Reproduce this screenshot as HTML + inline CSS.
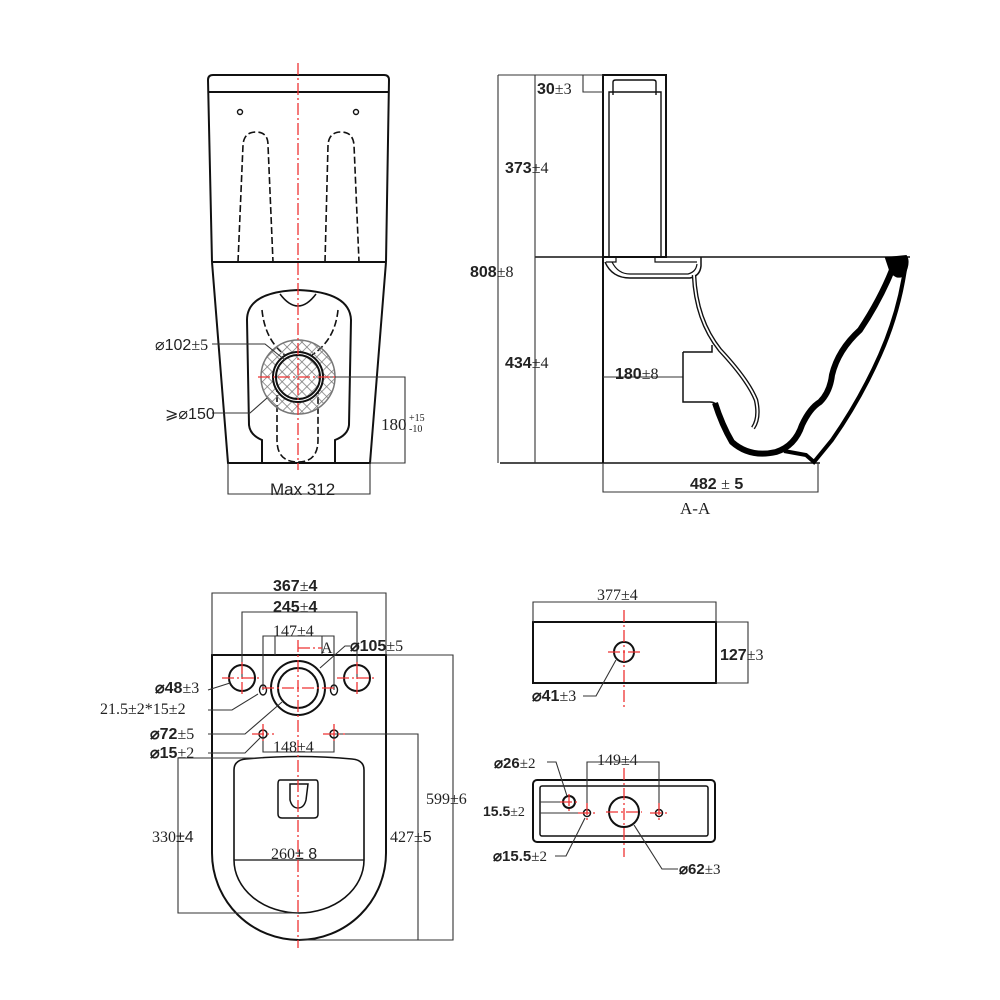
<!DOCTYPE html>
<html><head><meta charset="utf-8"><style>
html,body{margin:0;padding:0;background:#fff}
svg{display:block}
text{font-family:"Liberation Sans",sans-serif;fill:#222}
.s{font-family:"Liberation Serif",serif}
</style></head><body>
<svg width="1000" height="1000" viewBox="0 0 1000 1000" xmlns="http://www.w3.org/2000/svg">
<defs>
<pattern id="hx" width="7" height="7" patternUnits="userSpaceOnUse" patternTransform="rotate(45)">
<path d="M0 0H7M0 0V7" stroke="#777" stroke-width="1.5"/>
</pattern>
</defs>
<g fill="none" stroke="#111" stroke-width="2">
<!-- FRONT VIEW -->
<path d="M212 262 L208 80 Q208 75 213 75 L384 75 Q389 75 389 80 L386 262"/>
<line x1="209" y1="92" x2="388" y2="92"/>
<line x1="212" y1="262" x2="386" y2="262"/>
<circle cx="240" cy="112" r="2.5" stroke-width="1.4"/>
<circle cx="356" cy="112" r="2.5" stroke-width="1.4"/>
<g stroke-dasharray="7,3" stroke-width="1.6">
<path d="M238 262 L243 145 Q244 132 256 132 Q268 132 268 145 L273 262"/>
<path d="M325 262 L328 145 Q329 132 341 132 Q353 132 354 145 L359 262"/>
<path d="M262 310 Q265 340 285 355"/>
<path d="M338 310 Q335 340 312 355"/>
<path d="M277 385 L277 440 Q277 462 298 462 Q318 462 318 440 L318 385"/>
</g>
<path d="M212 262 L228 463 L370 463 L386 262"/>
<path d="M262 463 L262 440 Q250 435 249 425 L247 320 Q247 292 298 290 Q350 292 351 320 L349 425 Q348 435 335 440 L335 463"/>
<path d="M280 294 Q298 318 316 294" stroke-width="1.5"/>
<circle cx="298" cy="377" r="37" fill="url(#hx)" stroke="#777" stroke-width="1.5"/>
<circle cx="298" cy="377" r="25" fill="#fff" stroke="#111"/>
<circle cx="298" cy="377" r="22" fill="url(#hx)" stroke="#111"/>
<!-- dims front -->
<g stroke="#333" stroke-width="1.1">
<path d="M330 377 H405 V463 H370"/>
<path d="M228 463 V494 H370 V463"/>
<path d="M212 344 H265 L285 360"/>
<path d="M212 413 H250 L267 398"/>
</g>
<!-- SIDE VIEW -->
<rect x="603" y="75" width="63" height="182"/>
<path d="M609 257 V92 H661 V257" stroke-width="1.4"/>
<path d="M613 95 V82 Q613 80 616 80 H653 Q656 80 656 82 V95" stroke-width="1.4"/>
<line x1="535" y1="257" x2="910" y2="257" stroke-width="1.4"/>
<line x1="603" y1="257" x2="603" y2="463"/>
<line x1="500" y1="463" x2="820" y2="463" stroke-width="1.4"/>
<g stroke="#333" stroke-width="1.1">
<path d="M498 75 H603 M498 75 V463 M535 75 V463 M583 75 V92 H603"/>
<path d="M603 463 V492 H818 V463"/>
<path d="M603 377 H683"/>
</g>
<path d="M683 352 V402 H710 Q716 402 718 408 M683 352 H712 V345" stroke-width="1.5"/>
<path d="M605 262 Q612 278 630 278 H690 Q700 276 701 266 V257" stroke-width="1.5"/>
<path d="M612 262 Q618 274 630 274 H688 Q696 272 697 264" stroke-width="1.2"/>
<path d="M616 257 V262 H606 M655 257 V262 H697" stroke-width="1.2"/>
<path d="M694 275 Q696 320 720 350 Q748 380 756 400 Q760 418 753 428" stroke="#111" stroke-width="4.5"/>
<path d="M694 275 Q696 320 720 350 Q748 380 756 400 Q760 418 753 428" stroke="#fff" stroke-width="1.8"/>
<path d="M715 403 Q722 425 732 442 Q750 458 776 452 Q795 446 802 425 Q810 408 820 402 Q830 392 832 375 Q838 350 860 330 Q880 300 892 270" stroke="#000" stroke-width="6"/>
<path d="M784 451 L806 455 L814 462 L832 440 Q860 400 880 355 Q900 310 906 262" stroke="#000" stroke-width="4"/>
<path d="M886 258 L906 256 Q910 262 904 275 Q896 280 890 270 Z" fill="#000" stroke="#000" stroke-width="2"/>
<!-- PLAN VIEW -->
<path d="M212 655 H386 V853 A87 87 0 0 1 212 853 Z"/>
<path d="M234 860 V770 Q234 760 246 759 Q298 754 352 759 Q364 760 364 770 V860 A65 53 0 0 1 234 860 Z" stroke-width="1.6"/>
<line x1="234" y1="860" x2="364" y2="860" stroke-width="1.3"/>
<path d="M280 780 H316 Q318 780 318 784 V814 Q318 818 314 818 H282 Q278 818 278 814 V784 Q278 780 280 780 Z" stroke-width="1.5"/>
<path d="M290 784 H308 L306 800 Q304 808 298 808 Q292 808 290 800 Z" stroke-width="1.5"/>
<circle cx="298" cy="688" r="27"/>
<circle cx="298" cy="688" r="20"/>
<circle cx="242" cy="678" r="13"/>
<circle cx="357" cy="678" r="13"/>
<ellipse cx="263" cy="690" rx="3.5" ry="5" stroke-width="1.4"/>
<ellipse cx="334" cy="690" rx="3.5" ry="5" stroke-width="1.4"/>
<circle cx="263" cy="734" r="4" stroke-width="1.5"/>
<circle cx="334" cy="734" r="4" stroke-width="1.5"/>
<g stroke="#333" stroke-width="1.1">
<path d="M212 655 V593 H386 V655"/>
<path d="M242 678 V612 H357 V678"/>
<path d="M263 690 V636 H334 V690"/>
<path d="M275 655 V636 M322 655 V636"/>
<path d="M263 734 V752 H334 V734"/>
<path d="M386 655 H453 V940 H298"/>
<path d="M334 734 H418 V940"/>
<path d="M263 758 H178 V913 H298"/>
<path d="M208 690 L230 683"/>
<path d="M208 710 H232 L258 694"/>
<path d="M208 734 H245 L282 702"/>
<path d="M208 753 H245 L260 738"/>
<path d="M350 646 H345 L320 668"/>
</g>
<!-- TANK TOP -->
<rect x="533" y="622" width="183" height="61"/>
<circle cx="624" cy="652" r="10"/>
<g stroke="#333" stroke-width="1.1">
<path d="M533 622 V602 H716 V622"/>
<path d="M716 622 H748 V683 H716"/>
<path d="M583 696 H596 L616 660"/>
</g>
<!-- TANK BOTTOM -->
<rect x="533" y="780" width="182" height="62" rx="4"/>
<rect x="540" y="786" width="168" height="50" rx="2" stroke-width="1.5"/>
<circle cx="624" cy="812" r="15"/>
<circle cx="569" cy="802" r="6"/>
<circle cx="587" cy="813" r="3.5" stroke-width="1.5"/>
<circle cx="659" cy="813" r="3.5" stroke-width="1.5"/>
<g stroke="#333" stroke-width="1.1">
<path d="M587 813 V762 H659 V813"/>
<path d="M540 802 H569 M540 813 H587"/>
<path d="M547 762 H556 L567 796"/>
<path d="M555 856 H566 L585 818"/>
<path d="M678 869 H662 L634 825"/>
</g>
</g>
<!-- red centre lines -->
<g stroke="#e33" stroke-width="1.3" fill="none" stroke-dasharray="12,3,2,3">
<line x1="298" y1="63" x2="298" y2="470"/>
<line x1="258" y1="377" x2="338" y2="377"/>
<line x1="298" y1="640" x2="298" y2="948"/>
<line x1="262" y1="688" x2="334" y2="688"/>
<line x1="222" y1="678" x2="262" y2="678"/>
<line x1="242" y1="662" x2="242" y2="696"/>
<line x1="337" y1="678" x2="377" y2="678"/>
<line x1="357" y1="662" x2="357" y2="696"/>
<line x1="252" y1="734" x2="274" y2="734"/>
<line x1="263" y1="724" x2="263" y2="744"/>
<line x1="323" y1="734" x2="345" y2="734"/>
<line x1="334" y1="724" x2="334" y2="744"/>
<line x1="298" y1="648" x2="322" y2="648"/>
<line x1="624" y1="610" x2="624" y2="710"/>
<line x1="608" y1="652" x2="640" y2="652"/>
<line x1="624" y1="768" x2="624" y2="857"/>
<line x1="606" y1="812" x2="642" y2="812"/>
<line x1="578" y1="813" x2="596" y2="813"/>
<line x1="650" y1="813" x2="668" y2="813"/>
<line x1="587" y1="803" x2="587" y2="823"/>
<line x1="659" y1="803" x2="659" y2="823"/>
<line x1="560" y1="802" x2="578" y2="802"/>
<line x1="569" y1="794" x2="569" y2="812"/>
</g>
<!-- text -->
<g font-size="16">
<text x="155" y="350">⌀102<tspan class="s">±5</tspan></text>
<text x="165" y="419">⩾⌀150</text>
<text x="381" y="430" class="s" font-size="17">180</text>
<text x="409" y="421" class="s" font-size="10">+15</text>
<text x="409" y="432" class="s" font-size="10">-10</text>
<text x="270" y="495" font-size="17">Max 312</text>
<text x="537" y="94" font-weight="bold">30<tspan class="s" font-weight="normal">±3</tspan></text>
<text x="505" y="173" font-weight="bold">373<tspan class="s" font-weight="normal">±4</tspan></text>
<text x="470" y="277" font-weight="bold">808<tspan class="s" font-weight="normal">±8</tspan></text>
<text x="505" y="368" font-weight="bold">434<tspan class="s" font-weight="normal">±4</tspan></text>
<text x="615" y="379" font-weight="bold">180<tspan class="s" font-weight="normal">±8</tspan></text>
<text x="690" y="489" font-weight="bold">482 <tspan class="s" font-weight="normal">±</tspan> 5</text>
<text x="680" y="514" class="s" font-size="17">A-A</text>
<text x="273" y="591" font-weight="bold">367<tspan class="s" font-weight="normal">±</tspan>4</text>
<text x="273" y="612" font-weight="bold">245<tspan class="s" font-weight="normal">±</tspan>4</text>
<text x="273" y="636" class="s">147±4</text>
<text x="321" y="653" class="s">A</text>
<text x="350" y="651" font-weight="bold">⌀105<tspan class="s" font-weight="normal">±5</tspan></text>
<text x="155" y="693" font-weight="bold">⌀48<tspan class="s" font-weight="normal">±3</tspan></text>
<text x="100" y="714" class="s">21.5±2*15±2</text>
<text x="150" y="739" font-weight="bold">⌀72<tspan class="s" font-weight="normal">±5</tspan></text>
<text x="150" y="758" font-weight="bold">⌀15<tspan class="s" font-weight="normal">±2</tspan></text>
<text x="273" y="752" class="s">148±4</text>
<text x="152" y="842" class="s">330<tspan font-family="Liberation Sans">±4</tspan></text>
<text x="271" y="859" class="s">260<tspan font-family="Liberation Sans">± 8</tspan></text>
<text x="390" y="842" class="s">427±<tspan font-family="Liberation Sans">5</tspan></text>
<text x="426" y="804" class="s">599±6</text>
<text x="597" y="600" class="s">377±4</text>
<text x="720" y="660" font-weight="bold">127<tspan class="s" font-weight="normal">±3</tspan></text>
<text x="532" y="701" font-weight="bold">⌀41<tspan class="s" font-weight="normal">±3</tspan></text>
<text x="597" y="765" class="s">149±4</text>
<text x="494" y="768" font-weight="bold" font-size="15">⌀26<tspan class="s" font-weight="normal">±2</tspan></text>
<text x="483" y="816" font-weight="bold" font-size="14">15.5<tspan class="s" font-weight="normal">±2</tspan></text>
<text x="493" y="861" font-weight="bold" font-size="15">⌀15.5<tspan class="s" font-weight="normal">±2</tspan></text>
<text x="679" y="874" font-weight="bold" font-size="15">⌀62<tspan class="s" font-weight="normal">±3</tspan></text>
</g>
</svg>
</body></html>
